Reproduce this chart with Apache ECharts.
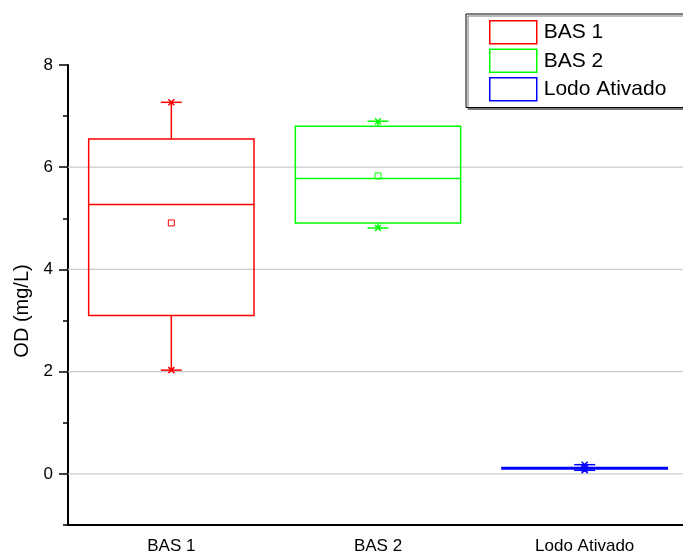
<!DOCTYPE html>
<html>
<head>
<meta charset="utf-8">
<script src="https://cdn.jsdelivr.net/npm/echarts@6/dist/echarts.min.js"></script>
<style>html,body{margin:0;padding:0;background:#fff;overflow:hidden}#c{width:690px;height:555px}</style>
</head>
<body>
<div id="c"></div>
<script>
// Categories and box statistics: [min, Q1, median, Q3, max, mean]
const categories = ['BAS 1', 'BAS 2', 'Lodo Ativado'];
const bas1 = [2.03, 3.10, 5.27, 6.55, 7.27, 4.91];
const bas2 = [4.81, 4.91, 5.78, 6.80, 6.90, 5.83];
const lodo = [0.07, 0.095, 0.11, 0.125, 0.18, 0.11];
const gridValues = [0, 2, 4, 6];
const majorTicks = [0, 2, 4, 6, 8];
const yMin = -1, yMax = 8;

const FONT = 'Liberation Sans, Arial, sans-serif';
const colors = ['#ff0000', '#00ff00', '#0000ff'];

function boxRenderer(color) {
  return function (params, api) {
    const x = api.value(0);
    const pMin = api.coord([x, api.value(1)]);
    const pQ1 = api.coord([x, api.value(2)]);
    const pMed = api.coord([x, api.value(3)]);
    const pQ3 = api.coord([x, api.value(4)]);
    const pMax = api.coord([x, api.value(5)]);
    const pMean = api.coord([x, api.value(6)]);
    const bw = api.size([1, 0])[0] * 0.8;
    const cx = pMed[0];
    const st = { stroke: color, lineWidth: 1.5, fill: null };
    const capW = 21, xs = 3, ms = 3;
    const line = (x1, y1, x2, y2) => ({ type: 'line', shape: { x1, y1, x2, y2 }, style: st });
    const cross = (p) => [line(p[0] - xs, p[1] - xs, p[0] + xs, p[1] + xs), line(p[0] - xs, p[1] + xs, p[0] + xs, p[1] - xs)];
    return {
      type: 'group',
      children: [
        { type: 'rect', shape: { x: cx - bw / 2, y: pQ3[1], width: bw, height: pQ1[1] - pQ3[1] }, style: { stroke: color, lineWidth: 1.5, fill: null } },
        line(cx - bw / 2, pMed[1], cx + bw / 2, pMed[1]),
        line(cx, pQ3[1], cx, pMax[1]),
        line(cx, pQ1[1], cx, pMin[1]),
        line(cx - capW / 2, pMax[1], cx + capW / 2, pMax[1]),
        line(cx - capW / 2, pMin[1], cx + capW / 2, pMin[1]),
        ...cross(pMax),
        ...cross(pMin),
        { type: 'rect', shape: { x: pMean[0] - ms, y: pMean[1] - ms, width: 2 * ms, height: 2 * ms }, style: { stroke: color, lineWidth: 1, fill: null } }
      ]
    };
  };
}

function gridRenderer(params, api) {
  const cs = params.coordSys;
  const p = api.coord([0, api.value(0)]);
  return { type: 'line', shape: { x1: cs.x, y1: p[1], x2: cs.x + cs.width, y2: p[1] }, style: { stroke: '#cccccc', lineWidth: 1.2 } };
}

const chart = echarts.init(document.getElementById('c'), null, { renderer: 'canvas' });
const seriesData = [bas1, bas2, lodo];
const series = [{
  type: 'custom', name: 'grid', silent: true, z: 1,
  data: gridValues.map(v => [v]),
  encode: { y: 0 },
  renderItem: gridRenderer
}];
categories.forEach((c, i) => {
  series.push({
    type: 'custom', name: c, z: 3,
    itemStyle: { color: colors[i] },
    data: [[i].concat(seriesData[i])],
    encode: { x: 0, y: [1, 2, 3, 4, 5, 6] },
    renderItem: boxRenderer(colors[i])
  });
});

chart.setOption({
  animation: false,
  backgroundColor: '#fff',
  textStyle: { fontFamily: FONT },
  grid: { left: 68, top: 65, width: 620, bottom: 29, containLabel: false },
  xAxis: {
    type: 'category', data: categories, boundaryGap: true,
    axisLine: { onZero: false, lineStyle: { color: '#000', width: 2 } },
    axisTick: { alignWithLabel: true, length: 5, lineStyle: { color: '#000', width: 1.5 } },
    axisLabel: { color: '#000', fontSize: 17, fontFamily: FONT, margin: 13 },
    splitLine: { show: false }
  },
  yAxis: [{
    type: 'value', min: yMin, max: yMax, interval: 1,
    axisLine: { show: true, lineStyle: { color: '#000', width: 2 } },
    axisTick: { show: true, length: 5, lineStyle: { color: '#000', width: 1.5 } },
    axisLabel: { color: '#000', fontSize: 17, fontFamily: FONT, margin: 15,
      formatter: v => (v >= 0 && v % 2 === 0) ? String(v) : '' },
    splitLine: { show: false }
  }, {
    type: 'value', min: yMin, max: yMax, interval: 1, position: 'left',
    axisLine: { show: false },
    axisTick: { show: true, length: 9, customValues: majorTicks, lineStyle: { color: '#000', width: 1.5 } },
    axisLabel: { show: false },
    splitLine: { show: false }
  }],
  legend: {
    orient: 'vertical', left: 466, top: 14,
    padding: [6, 60, 6, 23],
    itemWidth: 47, itemHeight: 23, itemGap: 4,
    backgroundColor: '#fff', borderColor: '#000', borderWidth: 1,
    shadowColor: '#777', shadowOffsetX: 2, shadowOffsetY: 2, shadowBlur: 0,
    textStyle: { color: '#000', fontSize: 21, fontFamily: FONT, padding: [0, 0, 0, 2] },
    icon: 'rect',
    data: categories.map((c, i) => ({ name: c, icon: 'rect', itemStyle: { color: '#fff', borderColor: colors[i], borderWidth: 1.5 } }))
  },
  graphic: [{
    type: 'text', x: 22, y: 311, rotation: Math.PI / 2,
    style: { text: 'OD (mg/L)', fontSize: 20, fontFamily: FONT, fill: '#000', align: 'center', verticalAlign: 'middle' }
  }],
  series: series
});
</script>
</body>
</html>
